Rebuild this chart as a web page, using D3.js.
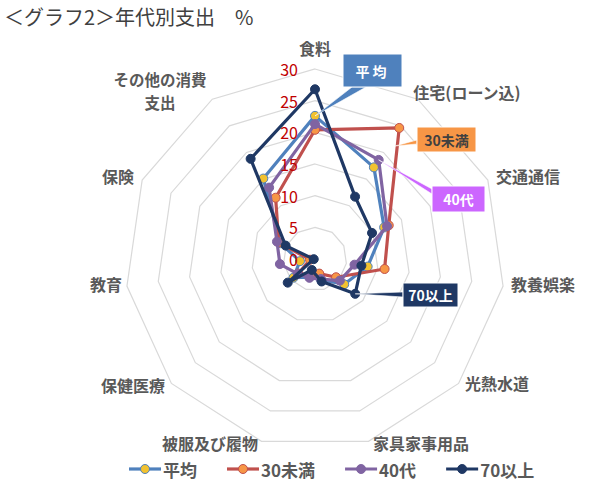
<!DOCTYPE html>
<html>
<head>
<meta charset="utf-8">
<script src="https://cdn.jsdelivr.net/npm/d3@7"></script>
<style>
  body { margin: 0; background: #fff; }
  text { font-family: "Noto Sans CJK JP", "Noto Sans", sans-serif; }
</style>
</head>
<body>
<script>
var width = 600;
var height = 485;

// data (%)
var categories = ["食料", "住宅(ローン込)", "交通通信", "教養娯楽", "光熱水道", "家具家事用品",
                  "被服及び履物", "保健医療", "教育", "保険", "その他の消費支出"];
var seriesNames = ["平均", "30未満", "40代", "70以上"];
var avgValues   = [22.6, 17.2, 12.0, 8.4, 6.1, 3.4, 3.0, 4.5, 2.4, 6.0, 15.1];
var under30     = [20.4, 24.6, 12.8, 11.1, 4.4, 2.4, 2.6, 3.5, 0.8, 6.3, 11.5];
var forties     = [21.3, 18.6, 12.5, 6.3, 5.2, 3.3, 3.1, 3.6, 5.6, 6.6, 13.4];
var over70      = [26.8, 11.7, 9.9, 7.4, 8.4, 3.7, 1.8, 5.7, 0.2, 5.1, 18.8];
var tickValues  = [0, 5, 10, 15, 20, 25, 30];

var seriesValues = [avgValues, under30, forties, over70];
var lineColors   = ["#4f81bd", "#c0504d", "#8064a2", "#1f3864"];
var markerColors = ["#f2c230", "#f79646", "#8064a2", "#1f3864"];

var cx = 315, cy = 259, R = 190;
var step = 2 * Math.PI / categories.length;

var svg = d3.select("body").append("svg")
    .attr("width", width)
    .attr("height", height);

var r = d3.scaleLinear().domain([0, 30]).range([0, R]);

function px(i, v) { return cx + r(v) * Math.sin(i * step); }
function py(i, v) { return cy - r(v) * Math.cos(i * step); }

// title
svg.append("text")
    .attr("x", 4)
    .attr("y", 25)
    .style("font-size", "20px")
    .style("fill", "#404040")
    .text("＜グラフ2＞年代別支出　%");

var chart = svg.append("g").attr("transform", "translate(" + cx + "," + cy + ")");

// grid rings
var ring = d3.lineRadial()
    .angle(function (d, i) { return i * step; })
    .radius(function (d) { return r(d); })
    .curve(d3.curveLinearClosed);

chart.selectAll(".ring")
    .data(tickValues.filter(function (t) { return t > 0; }))
  .enter().append("path")
    .attr("class", "ring")
    .attr("d", function (t) { return ring(categories.map(function () { return t; })); })
    .style("fill", "none")
    .style("stroke", "#d9d9d9")
    .style("stroke-width", 1.2);

// category labels
var labelPos = [
  [315, 48], [467, 92], [528, 176], [543, 284], [497, 383], [421, 443],
  [210, 443], [133, 385], [106, 284], [118, 176], [160, 79]
];
categories.forEach(function (c, i) {
  var t = svg.append("text")
      .attr("x", labelPos[i][0])
      .attr("y", labelPos[i][1])
      .attr("text-anchor", "middle")
      .attr("dominant-baseline", "central")
      .style("font-size", c == "その他の消費支出" ? "15.5px" : "16px")
      .style("font-weight", "bold")
      .style("fill", "#595959");
  if (c == "その他の消費支出") {
    t.append("tspan").attr("x", labelPos[i][0]).text("その他の消費");
    t.append("tspan").attr("x", labelPos[i][0]).attr("dy", 23).text("支出");
  } else {
    t.text(c);
  }
});

// series
var line = d3.line()
    .x(function (d, i) { return px(i, d); })
    .y(function (d, i) { return py(i, d); })
    .curve(d3.curveLinearClosed);

seriesValues.forEach(function (vals, s) {
  var g = svg.append("g").attr("class", "series");
  g.append("path")
    .attr("d", line(vals))
    .style("fill", "none")
    .style("stroke", lineColors[s])
    .style("stroke-width", 3.2)
    .style("stroke-linejoin", "round");
  g.selectAll("circle")
    .data(vals)
  .enter().append("circle")
    .attr("cx", function (d, i) { return px(i, d); })
    .attr("cy", function (d, i) { return py(i, d); })
    .attr("r", 4.5)
    .style("fill", markerColors[s])
    .style("stroke", lineColors[s])
    .style("stroke-width", 1);
});

// tick labels (drawn over the lines)
svg.selectAll(".tick")
    .data(tickValues)
  .enter().append("text")
    .attr("x", cx - 17)
    .attr("y", function (d) { return cy - r(d); })
    .attr("text-anchor", "end")
    .attr("dominant-baseline", "central")
    .style("font-size", "16px")
    .style("fill", "#c00000")
    .text(function (d) { return d; });

// callouts: box + wedge pointing at a data point
var callouts = [
  { s: 0, i: 0, x: 343, y: 54, w: 59, h: 33, fill: "#4f81bd", color: "#fff", base: [[352, 87], [366, 87]] },
  { s: 1, i: 1, x: 417, y: 127, w: 59, h: 25, fill: "#f79646", color: "#404040", base: [[417, 140], [417, 144]] },
  { s: 2, i: 1, x: 432, y: 186, w: 53, h: 26, fill: "#cc66ff", color: "#fff", base: [[432, 189], [432, 194]] },
  { s: 3, i: 4, x: 403, y: 283, w: 55, h: 24, fill: "#1f3864", color: "#fff", base: [[403, 292], [403, 297]] }
];
callouts.forEach(function (c) {
  var v = seriesValues[c.s][c.i];
  var tip = [px(c.i, v), py(c.i, v)];
  if (c.s == 1) tip = [px(c.i, v) - 4, py(c.i, v) + 18];
  svg.append("path")
    .attr("d", d3.line()([c.base[0], tip, c.base[1]]) + "Z")
    .style("fill", c.fill)
    .style("stroke", "#fff")
    .style("stroke-width", 0.6);
  svg.append("rect")
    .attr("x", c.x).attr("y", c.y)
    .attr("width", c.w).attr("height", c.h)
    .style("fill", c.fill)
    .style("stroke", "#fff")
    .style("stroke-width", 1);
  svg.append("text")
    .attr("x", c.x + c.w / 2)
    .attr("y", c.y + c.h / 2)
    .attr("text-anchor", "middle")
    .attr("dominant-baseline", "central")
    .style("font-size", "14px")
    .style("font-weight", "bold")
    .style("letter-spacing", c.s == 0 ? "3px" : "0px")
    .style("fill", c.color)
    .text(seriesNames[c.s]);
});

// legend
var lx = 129, ly = 469;
seriesNames.forEach(function (name, s) {
  var g = svg.append("g").attr("transform", "translate(" + lx + "," + ly + ")");
  g.append("line")
    .attr("x1", 0).attr("x2", 32)
    .style("stroke", lineColors[s])
    .style("stroke-width", 3.2);
  g.append("circle")
    .attr("cx", 16).attr("r", 4.5)
    .style("fill", markerColors[s])
    .style("stroke", lineColors[s]);
  var t = g.append("text")
    .attr("x", 34)
    .attr("dominant-baseline", "central")
    .style("font-size", "17px")
    .style("font-weight", "bold")
    .style("fill", "#595959")
    .text(name);
  lx += 34 + t.node().getComputedTextLength() + 30;
});
</script>
</body>
</html>
